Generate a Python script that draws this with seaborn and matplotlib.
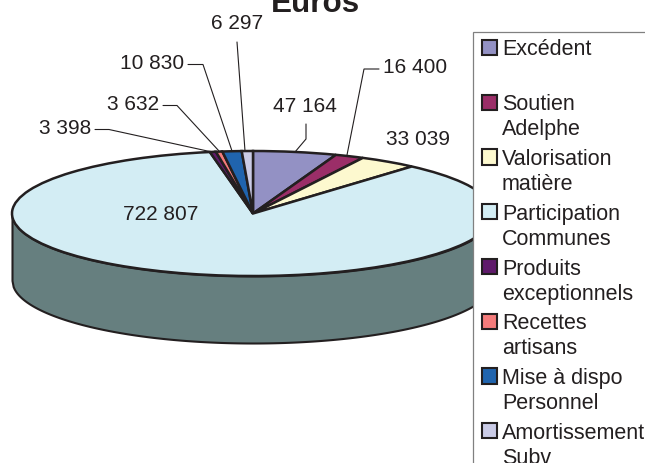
import numpy as np
import matplotlib
matplotlib.use("Agg")
import matplotlib.pyplot as plt
import seaborn as sns

categories = ["Excédent\n", "Soutien\nAdelphe", "Valorisation\nmatière", "Participation\nCommunes",
              "Produits\nexceptionnels", "Recettes\nartisans", "Mise à dispo\nPersonnel", "Amortissement\nSubv"]
values = [47164, 16400, 33039, 722807, 3398, 3632, 10830, 6297]
colors = ["#9391c4", "#9b2e68", "#fdf9cf", "#d3edf4", "#5f1a6b", "#f47b7b", "#2064ae", "#cacbe6"]
title = "Euros"
side_color = "#667f7f"
ink = "#231f20"

sns.set_theme(style="white")
plt.rcParams["font.family"] = ["Liberation Sans", "DejaVu Sans"]

W, H = 645, 464
CX, CY, RX, RY, DEPTH = 253, 214.5, 241, 62.5, 67

fig = plt.figure(figsize=(W / 100, H / 100), dpi=100, facecolor="white")
ax = fig.add_axes([0, 0, 1, 1])

def P(px, py):
    return (px - CX) / RX, (CY - py) / RY

# side wall
d = DEPTH / RY
xs = np.linspace(-1, 1, 400)
rim = -np.sqrt(1 - xs ** 2)
ax.fill_between(xs, rim, rim - d, facecolor=side_color, edgecolor=ink, linewidth=1.5, zorder=0)

wedges, _ = ax.pie(values, colors=sns.color_palette(colors), startangle=90, counterclock=False,
                   wedgeprops=dict(edgecolor=ink, linewidth=1.8, joinstyle="miter"))
for w in wedges:
    w.set_zorder(1)

ax.set_aspect("auto")
ax.set_xlim(P(0, 0)[0], P(W, 0)[0])
ax.set_ylim(P(0, H)[1], P(0, 0)[1])
ax.axis("off")

def fmt(v):
    return f"{v:,}".replace(",", " ")

label_fs = 15
anchors = [(305, 107, "center"), (383, 68, "left"), (418, 140, "center"), (161, 215, "center"),
           (91, 129, "right"), (159, 105, "right"), (184, 64, "right"), (237, 24, "center")]
for v, (px, py, ha) in zip(values, anchors):
    x, y = P(px, py)
    ax.text(x, y, fmt(v), ha=ha, va="center", fontsize=label_fs, color=ink, zorder=5)

leaders = [[(306, 125), (306, 140), (295, 153)],
           [(379, 70), (364, 70), (347, 156)],
           [(95, 130.5), (109, 130.5), (212, 153)],
           [(163, 106.5), (177, 106.5), (219, 152)],
           [(188, 65.5), (203, 65.5), (232, 152)],
           [(237, 43), (245, 152)]]
for line in leaders:
    pts = [P(*p) for p in line]
    ax.plot([p[0] for p in pts], [p[1] for p in pts], color=ink, lw=0.8, zorder=4, solid_joinstyle="miter")

tx, ty = P(315, 12)
ax.text(tx, ty, title, ha="center", va="baseline", fontsize=22.6, fontweight="bold", color=ink, zorder=5, clip_on=False)

leg = ax.legend(wedges, categories, loc="upper left", bbox_to_anchor=(472.7 / W, 1 - 33 / H),
                bbox_transform=fig.transFigure, fontsize=15.5, frameon=True, fancybox=False, framealpha=1,
                edgecolor="#808080", facecolor="white", borderaxespad=0, borderpad=0.30, labelspacing=0.40,
                handlelength=0.71, handleheight=0.71, handletextpad=0.34, labelcolor=ink)
leg.set_zorder(10)
leg.get_frame().set_linewidth(0.9)
for t in leg.get_texts():
    t.set_linespacing(1.26)
for hp in leg._legend_handle_box.get_children()[0].get_children():
    hp.align = "top"
for patch in leg.get_patches():
    patch.set_edgecolor(ink)
    patch.set_linewidth(1.5)
    patch.set_x(patch.get_x() + 2)
    patch.set_y(patch.get_y() - 1)

fig.savefig("out.png", dpi=100)
